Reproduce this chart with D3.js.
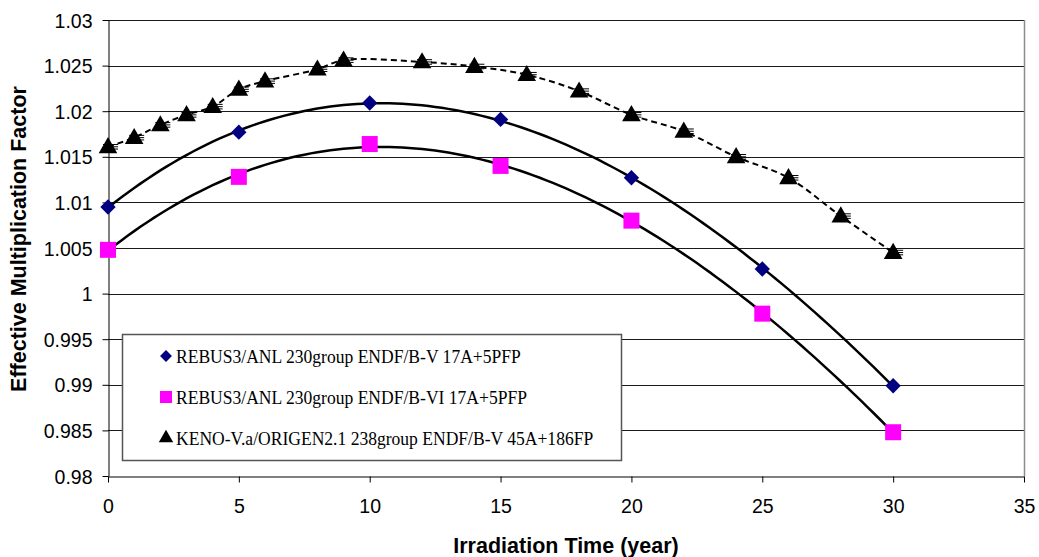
<!DOCTYPE html>
<html>
<head>
<meta charset="utf-8">
<script src="https://cdn.jsdelivr.net/npm/d3@7"></script>
<style>
  body { margin: 0; background: #fff; }
  svg { display: block; }
</style>
</head>
<body>
<div id="chart"></div>
<script>
// REBUS3 series (every 5 years)
const rebusYears = [0, 5, 10, 15, 20, 25, 30];
const rebusENDF5 = [1.0095, 1.0177, 1.0209, 1.0191, 1.0127, 1.0027, 0.9899];
const rebusENDF6 = [1.0048, 1.0128, 1.0164, 1.0140, 1.0080, 0.9978, 0.9848];

// KENO-V.a / ORIGEN2.1 series
const kenoYears = [0, 1, 2, 3, 4, 5, 6, 8, 9, 12, 14, 16, 18, 20, 22, 24, 26, 28, 30];
const kenoValues = [1.0161, 1.0171, 1.0185, 1.0196, 1.0205, 1.0224, 1.0233, 1.0246, 1.0256,
  1.0254, 1.0249, 1.0240, 1.0222, 1.0196, 1.0178, 1.0150, 1.0127, 1.0085, 1.0045];
const kenoError = 0.00025;

const xTicks = [0, 5, 10, 15, 20, 25, 30, 35];
const yTicks = [0.98, 0.985, 0.99, 0.995, 1, 1.005, 1.01, 1.015, 1.02, 1.025, 1.03];

const legendLabels = [
  "REBUS3/ANL 230group ENDF/B-V 17A+5PFP",
  "REBUS3/ANL 230group ENDF/B-VI 17A+5PFP",
  "KENO-V.a/ORIGEN2.1 238group ENDF/B-V 45A+186FP"
];

const width = 1039, height = 557;
const margin = { top: 20, right: 15, bottom: 81, left: 108 };
const sansFont = "'Liberation Sans', Arial, sans-serif";

const svg = d3.select("#chart").append("svg")
  .attr("width", width)
  .attr("height", height);

const x = d3.scaleLinear().domain([0, 35]).range([margin.left, width - margin.right]);
const y = d3.scaleLinear().domain([0.98, 1.03]).range([height - margin.bottom, margin.top]);

// least squares polynomial fit (like the spreadsheet trendline)
function polyfit(xs, ys, deg) {
  const n = deg + 1;
  const A = Array.from({ length: n }, () => new Array(n + 1).fill(0));
  xs.forEach((xv, k) => {
    for (let i = 0; i < n; i++) {
      for (let j = 0; j < n; j++) A[i][j] += Math.pow(xv, i + j);
      A[i][n] += ys[k] * Math.pow(xv, i);
    }
  });
  for (let c = 0; c < n; c++) {
    let p = c;
    for (let r = c + 1; r < n; r++) if (Math.abs(A[r][c]) > Math.abs(A[p][c])) p = r;
    [A[c], A[p]] = [A[p], A[c]];
    for (let r = 0; r < n; r++) {
      if (r === c) continue;
      const f = A[r][c] / A[c][c];
      for (let k = c; k <= n; k++) A[r][k] -= f * A[c][k];
    }
  }
  const coef = A.map((row, i) => row[n] / row[i]);
  return (t) => coef.reduce((s, a, i) => s + a * Math.pow(t, i), 0);
}

const crisp = (v) => Math.round(v) + 0.5;

// gridlines
svg.append("g")
  .selectAll("line")
  .data(yTicks.filter((d) => d > 0.98))
  .join("line")
  .attr("x1", x(0))
  .attr("x2", x(35))
  .attr("y1", (d) => crisp(y(d)))
  .attr("y2", (d) => crisp(y(d)))
  .attr("stroke", "#1a1a1a")
  .attr("stroke-width", 1);

// plot area right border
svg.append("line")
  .attr("x1", crisp(x(35))).attr("x2", crisp(x(35)))
  .attr("y1", y(1.03)).attr("y2", y(0.98))
  .attr("stroke", "#8c8c8c")
  .attr("stroke-width", 1.5);

// axes
const yAxis = svg.append("g")
  .attr("transform", `translate(${crisp(x(0))},0)`)
  .call(d3.axisLeft(y).tickValues(yTicks).tickSize(6).tickSizeOuter(0)
    .tickFormat((d) => String(+d.toFixed(3))));

const xAxis = svg.append("g")
  .attr("transform", `translate(0,${crisp(y(0.98))})`)
  .call(d3.axisBottom(x).tickValues(xTicks).tickSize(6).tickSizeOuter(0));

[yAxis, xAxis].forEach((g) => {
  g.select(".domain").attr("stroke", "#000");
  g.selectAll(".tick line").attr("stroke", "#000");
  g.selectAll("text")
    .style("font-family", sansFont)
    .style("font-size", "19.5px")
    .attr("fill", "#000");
});
yAxis.selectAll("text").attr("x", -16).attr("dy", "0.36em");
xAxis.selectAll("text").attr("y", 23);

// axis titles
svg.append("text")
  .attr("x", 566)
  .attr("y", 553)
  .attr("text-anchor", "middle")
  .style("font-family", sansFont)
  .style("font-weight", "bold")
  .style("font-size", "21.5px")
  .text("Irradiation Time (year)");

svg.append("text")
  .attr("transform", "translate(26,239) rotate(-90)")
  .attr("text-anchor", "middle")
  .style("font-family", sansFont)
  .style("font-weight", "bold")
  .style("font-size", "21.5px")
  .text("Effective Multiplication Factor");

// trendlines
const samples = d3.range(0, 30.001, 0.25);
const line = d3.line().x((d) => x(d[0])).y((d) => y(d[1]));

[rebusENDF5, rebusENDF6].forEach((vals) => {
  const f = polyfit(rebusYears, vals, 3);
  svg.append("path")
    .attr("d", line(samples.map((t) => [t, f(t)])))
    .attr("fill", "none")
    .attr("stroke", "#000")
    .attr("stroke-width", 2.5);
});

// KENO dashed line
svg.append("path")
  .attr("d", d3.line().curve(d3.curveCatmullRom)
    .x((d, i) => x(kenoYears[i])).y((d) => y(d))(kenoValues))
  .attr("fill", "none")
  .attr("stroke", "#000")
  .attr("stroke-width", 2)
  .attr("stroke-dasharray", "6,4");

// markers
const diamond = d3.symbol().type(d3.symbolDiamond2);
const square = d3.symbol().type(d3.symbolSquare);
const triangle = d3.symbol().type(d3.symbolTriangle);

svg.append("g")
  .selectAll("path")
  .data(rebusENDF5)
  .join("path")
  .attr("transform", (d, i) => `translate(${x(rebusYears[i])},${y(d)})`)
  .attr("d", diamond.size(150)())
  .attr("fill", "#000080");

svg.append("g")
  .selectAll("path")
  .data(rebusENDF6)
  .join("path")
  .attr("transform", (d, i) => `translate(${x(rebusYears[i])},${y(d)})`)
  .attr("d", square.size(256)())
  .attr("fill", "#ff00ff");

const keno = svg.append("g")
  .selectAll("g")
  .data(kenoValues)
  .join("g")
  .attr("transform", (d, i) => `translate(${x(kenoYears[i])},${y(d)})`);

keno.append("path")
  .attr("d", triangle.size(150)())
  .attr("transform", "translate(0,1)")
  .attr("fill", "#000");

// error bar caps
keno.selectAll("line")
  .data((d) => [-kenoError, 0, kenoError].map((e) => y(d + e) - y(d)))
  .join("line")
  .attr("x1", -5)
  .attr("x2", 10)
  .attr("y1", (d) => d)
  .attr("y2", (d) => d)
  .attr("stroke", "#000")
  .attr("stroke-width", 1);

// legend
const legend = svg.append("g");
legend.append("rect")
  .attr("x", 122.5)
  .attr("y", 334.5)
  .attr("width", 499)
  .attr("height", 126)
  .attr("fill", "#fff")
  .attr("stroke", "#555")
  .attr("stroke-width", 1.5);

const legendSymbols = [
  { sym: diamond.size(90)(), fill: "#000080" },
  { sym: square.size(144)(), fill: "#ff00ff" },
  { sym: triangle.size(90)(), fill: "#000" }
];

const items = legend.selectAll("g.item")
  .data(legendLabels)
  .join("g")
  .attr("class", "item")
  .attr("transform", (d, i) => `translate(166,${356 + i * 41})`);

items.append("path")
  .attr("d", (d, i) => legendSymbols[i].sym)
  .attr("fill", (d, i) => legendSymbols[i].fill);

items.append("text")
  .attr("transform", "translate(10,0) scale(0.9,1)")
  .attr("dy", "0.35em")
  .style("font-family", "'Liberation Serif', 'Times New Roman', serif")
  .style("font-size", "19.5px")
  .text((d) => d);
</script>
</body>
</html>
